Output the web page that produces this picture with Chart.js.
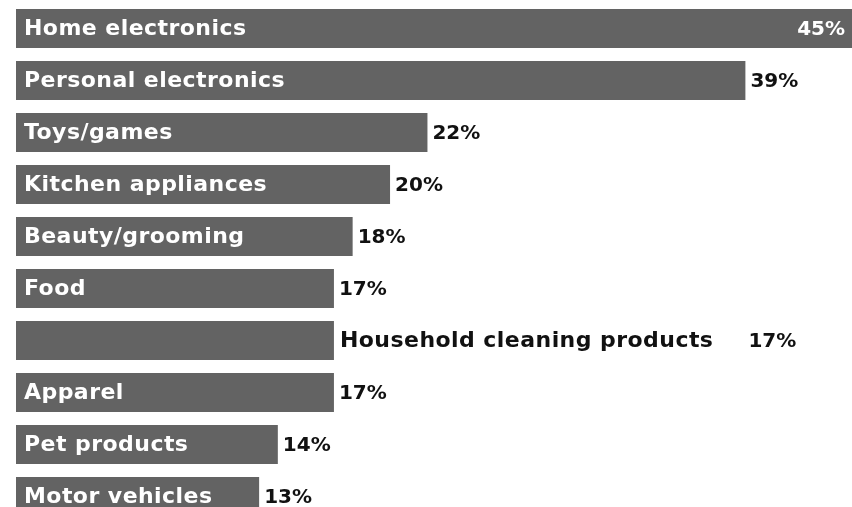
<!DOCTYPE html>
<html>
<head>
<meta charset="utf-8">
<script src="https://cdn.jsdelivr.net/npm/chart.js@4"></script>
<style>
  html, body { margin: 0; padding: 0; background: #fff; overflow: hidden; }
  #wrap { width: 852px; height: 530px; }
</style>
</head>
<body>
<div id="wrap"><canvas id="chart" width="852" height="530"></canvas></div>
<script>
const categories = [
  "Home electronics",
  "Personal electronics",
  "Toys/games",
  "Kitchen appliances",
  "Beauty/grooming",
  "Food",
  "Household cleaning products",
  "Apparel",
  "Pet products",
  "Motor vehicles",
];
const values = [45, 39, 22, 20, 18, 17, 17, 17, 14, 13];

const BAR_COLOR = "#636363";
const LABEL_FONT = "bold 22px 'DejaVu Sans'";
const VALUE_FONT = "bold 20px 'DejaVu Sans'";

// labels go inside the bar when they fit, otherwise after it
const barLabels = {
  id: "barLabels",
  afterDatasetsDraw(chart) {
    const ctx = chart.ctx;
    const area = chart.chartArea;
    const meta = chart.getDatasetMeta(0);
    ctx.save();
    ctx.textBaseline = "middle";
    meta.data.forEach((bar, i) => {
      const name = categories[i];
      const pct = `${values[i]}%`;
      const left = bar.base;
      const right = Math.min(bar.x, area.right);
      const y = bar.y + 1;

      ctx.font = LABEL_FONT;
      ctx.letterSpacing = "0.45px";
      const nameWidth = ctx.measureText(name).width;
      let nameEnd;
      if (nameWidth + 16 < right - left) {
        ctx.fillStyle = "#fff";
        ctx.textAlign = "left";
        ctx.fillText(name, left + 8, y);
        nameEnd = null;
      } else {
        ctx.fillStyle = "#111";
        ctx.textAlign = "left";
        ctx.fillText(name, right + 6, y);
        nameEnd = right + 6 + nameWidth;
      }

      ctx.font = VALUE_FONT;
      ctx.letterSpacing = "0px";
      const pctWidth = ctx.measureText(pct).width;
      if (nameEnd !== null) {
        ctx.fillStyle = "#111";
        ctx.textAlign = "left";
        ctx.fillText(pct, nameEnd + 35, y);
      } else if (bar.x + 5 + pctWidth > area.right) {
        ctx.fillStyle = "#fff";
        ctx.textAlign = "right";
        ctx.fillText(pct, area.right - 7, y);
      } else {
        ctx.fillStyle = "#111";
        ctx.textAlign = "left";
        ctx.fillText(pct, bar.x + 5, y);
      }
    });
    ctx.restore();
  },
};

new Chart(document.getElementById("chart"), {
  type: "bar",
  data: {
    labels: categories,
    datasets: [{
      data: values,
      backgroundColor: BAR_COLOR,
      borderWidth: 0,
      categoryPercentage: 1,
      barPercentage: 0.75,
    }],
  },
  options: {
    indexAxis: "y",
    responsive: false,
    animation: false,
    layout: { padding: { left: 16, right: 0, top: 2.5, bottom: 7.5 } },
    plugins: {
      legend: { display: false },
      tooltip: { enabled: false },
    },
    scales: {
      x: { display: false, min: 0, max: 44.7 },
      y: { display: false },
    },
  },
  plugins: [barLabels],
});
</script>
</body>
</html>
